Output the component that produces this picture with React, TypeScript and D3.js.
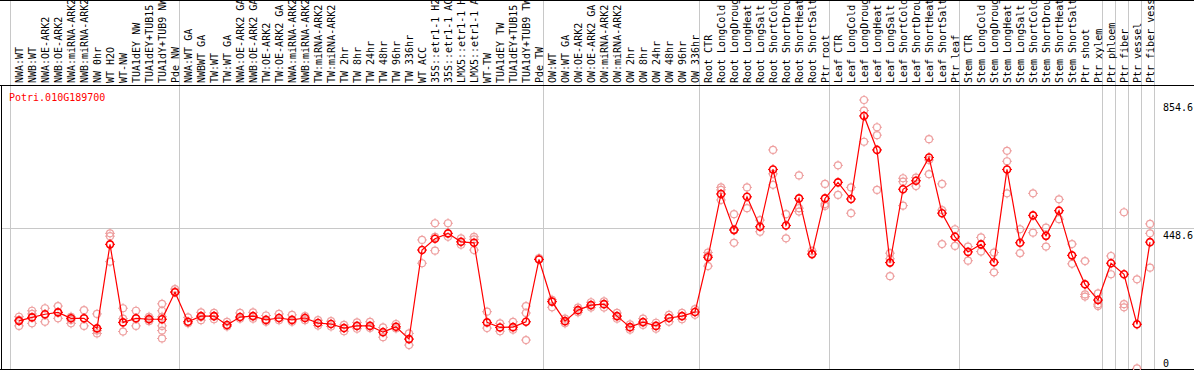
import React, { useEffect } from "react";
import * as d3 from "d3";

const geneName = "Potri.010G189700";

const categories: string[] = [
  "NWA:WT", "NWB:WT", "NWA:OE-ARK2", "NWB:OE-ARK2", "NWA:miRNA-ARK2", "NWB:miRNA-ARK2",
  "NW 0hr", "WT H2O", "WT-NW", "TUA1dEY NW", "TUA1dEY+TUB15", "TUA1dY+TUB9 NW", "Pde NW",
  "NWA:WT GA", "NWBWT GA", "TW:WT", "TW:WT GA", "NWA:OE-ARK2 GA", "NWB:OE-ARK2 GA",
  "TW:OE-ARK2", "TW:OE-ARK2 GA", "NWA:miRNA-ARK2", "NWB:miRNA-ARK2", "TW:miRNA-ARK2",
  "TW:miRNA-ARK2", "TW 2hr", "TW 8hr", "TW 24hr", "TW 48hr", "TW 96hr", "TW 336hr",
  "WT ACC", "35S::etr1-1 H2", "35S::etr1-1 AC", "LMX5::etr1-1 H", "LMX5::etr1-1 A",
  "WT-TW", "TUA1dEY TW", "TUA1dEY+TUB15", "TUA1dY+TUB9 TW", "Pde TW",
  "OW:WT", "OW:WT GA", "OW:OE-ARK2", "OW:OE-ARK2 GA", "OW:miRNA-ARK2", "OW:miRNA-ARK2",
  "OW 2hr", "OW 8hr", "OW 24hr", "OW 48hr", "OW 96hr", "OW 336hr",
  "Root CTR", "Root LongCold", "Root LongDroug", "Root LongHeat", "Root LongSalt",
  "Root ShortCold", "Root ShortDrou", "Root ShortHeat", "Root ShortSalt", "Ptr root",
  "Leaf CTR", "Leaf LongCold", "Leaf LongDroug", "Leaf LongHeat", "Leaf LongSalt",
  "Leaf ShortCold", "Leaf ShortDrou", "Leaf ShortHeat", "Leaf ShortSalt", "Ptr leaf",
  "Stem CTR", "Stem LongCold", "Stem LongDroug", "Stem LongHeat", "Stem LongSalt",
  "Stem ShortCold", "Stem ShortDrou", "Stem ShortHeat", "Stem ShortSalt",
  "Ptr shoot", "Ptr xylem", "Ptr phloem", "Ptr fiber", "Ptr vessel", "Ptr fiber vess",
];

const meanValues: number[] = [
  153, 164, 174, 180, 161, 161, 129, 396, 148, 161, 158, 158, 244,
  150, 168, 168, 140, 165, 168, 156, 162, 156, 162, 146, 143, 130, 137, 137, 117, 134, 95,
  378, 414, 431, 404, 401, 148, 132, 133, 150, 348,
  214, 152, 187, 203, 206, 168, 133, 149, 137, 162, 168, 181,
  355, 556, 442, 547, 452, 634, 456, 542, 365, 542,
  593, 540, 804, 696, 338, 571, 598, 672, 495, 420,
  372, 396, 339, 634, 401, 488, 423, 503, 361,
  269, 219, 336, 301, 142, 403,
];

const replicateValues: number[][] = [
  [166, 156, 137], [185, 175, 145], [193, 172, 150], [200, 180, 161], [166, 156, 145],
  [187, 161, 137], [175, 122, 113], [431, 422, 341], [193, 160, 119], [185, 160, 137],
  [166, 161, 152], [207, 185, 166, 137, 122, 97], [254, 246],
  [164, 145], [180, 165, 155], [178, 168, 158], [150, 135], [178, 160], [180, 160],
  [170, 150], [175, 155], [172, 150], [168, 155], [155, 138], [152, 135], [140, 120],
  [148, 128], [150, 130], [132, 101], [143, 129], [113, 76],
  [410, 336], [463, 420, 376], [463, 420], [415, 395], [420, 412, 378],
  [182, 130], [145, 120], [150, 125], [200, 178, 92], [352],
  [220, 196], [160, 145], [195, 180], [212, 195], [215, 195], [178, 160],
  [142, 125], [160, 140], [147, 128], [172, 150], [178, 158], [190, 172],
  [370, 360, 327], [577, 569, 537], [492, 440, 401], [577, 511], [473, 436],
  [696, 620, 585], [492, 415], [615, 511, 500], [375], [588, 524, 518],
  [647, 553], [577, 495], [854.6, 821, 722], [768, 743, 569], [368, 350, 295],
  [606, 595, 519], [608, 581], [730, 664, 619], [588, 505, 397], [444, 391],
  [389, 344], [418, 373], [370, 307], [693, 660, 558], [444, 368], [558, 433],
  [449, 389], [539, 476], [397, 334],
  [343, 237, 230], [240, 206, 200], [359, 301], [498, 206, 196], [285, 2], [461, 431, 322],
];

const separatorIndices: number[] = [0, 13, 41, 53, 63, 73, 84, 85, 86, 87, 88];
const yTickValues: number[] = [854.6, 448.6, 0];
const yTickLabels: string[] = ["854.6", "448.6", "0"];
const gridValues: number[] = [448.6];

const W = 1194;
const H = 370;
const MONO = "'DejaVu Sans Mono', 'Liberation Mono', monospace";

const MEAN_COLOR = "#ff0000";
const REP_COLOR = "#eea0a0";

function Marker({ cx, cy, color, sw }: { cx: number; cy: number; color: string; sw: number }) {
  const r = 3.5;
  const t0 = r - 0.5;
  const t1 = r + 1.5;
  return (
    <g stroke={color} strokeWidth={sw} fill="none">
      <circle cx={cx} cy={cy} r={r} />
      <line x1={cx} y1={cy - t0} x2={cx} y2={cy - t1} strokeWidth={1} />
      <line x1={cx} y1={cy + t0} x2={cx} y2={cy + t1} strokeWidth={1} />
      <line x1={cx - t0} y1={cy} x2={cx - t1} y2={cy} strokeWidth={1} />
      <line x1={cx + t0} y1={cy} x2={cx + t1} y2={cy} strokeWidth={1} />
    </g>
  );
}

export default function App() {
  useEffect(() => {
    document.body.style.margin = "0";
    document.body.style.overflow = "hidden";
  }, []);

  const x = d3.scaleLinear().domain([0, categories.length - 1]).range([19, 1150]);
  const y = d3.scaleLinear().domain([0, 854.6]).range([369, 100]);
  const step = x(1) - x(0);

  const line = d3
    .line<number>()
    .x((_, i) => x(i))
    .y((d) => y(d));

  const plotTop = 85.5;
  const plotBottom = 369.5;

  return (
    <svg width={W} height={H} style={{ position: "absolute", left: 0, top: 0, background: "#fff" }}>
      <defs>
        <clipPath id="labelClip">
          <rect x={0} y={1} width={W} height={84} />
        </clipPath>
      </defs>
      {/* grid line */}
      {gridValues.map((v, i) => (
        <line key={"g" + i} x1={1} x2={W} y1={Math.round(y(v)) + 0.5} y2={Math.round(y(v)) + 0.5} stroke="#c8c8c8" strokeWidth={1} />
      ))}
      {/* separators */}
      {separatorIndices.map((si, i) => {
        const sx = Math.floor(x(si) - step / 2 - 2) + 0.5;
        return <line key={"s" + i} x1={sx} x2={sx} y1={0} y2={plotBottom} stroke="#c8c8c8" strokeWidth={1} />;
      })}
      {/* borders */}
      <line x1={0} x2={W} y1={0.5} y2={0.5} stroke="#000" strokeWidth={1} />
      <line x1={0} x2={W} y1={plotTop} y2={plotTop} stroke="#000" strokeWidth={1} />
      <line x1={0} x2={W} y1={plotBottom} y2={plotBottom} stroke="#000" strokeWidth={1} />
      <line x1={1.5} x2={1.5} y1={plotTop} y2={plotBottom} stroke="#000" strokeWidth={1} />
      {/* category labels */}
      <g clipPath="url(#labelClip)">
        {categories.map((c, i) => (
          <text
            key={"c" + i}
            transform={`translate(${x(i) + 4},83) rotate(-90)`}
            textAnchor="start"
            fontFamily={MONO}
            fontSize={10}
            fill="#000"
          >
            {c}
          </text>
        ))}
      </g>
      {/* gene name */}
      <text x={9} y={101} fontFamily={MONO} fontSize={10} fill={MEAN_COLOR}>
        {geneName}
      </text>
      {/* y tick labels */}
      {yTickValues.map((v, i) => {
        let ty = y(v) + 11;
        if (v === 0) ty = y(v) - 2;
        return (
          <text key={"t" + i} x={1163} y={ty} fontFamily={MONO} fontSize={10} fill="#000">
            {yTickLabels[i]}
          </text>
        );
      })}
      {/* replicates */}
      {replicateValues.map((reps, i) =>
        reps.map((v, j) => <Marker key={`r${i}-${j}`} cx={x(i)} cy={y(v)} color={REP_COLOR} sw={1.2} />)
      )}
      {/* mean line */}
      <path d={line(meanValues) || ""} fill="none" stroke={MEAN_COLOR} strokeWidth={1.2} />
      {/* means */}
      {meanValues.map((v, i) => (
        <Marker key={"m" + i} cx={x(i)} cy={y(v)} color={MEAN_COLOR} sw={1.6} />
      ))}
    </svg>
  );
}
